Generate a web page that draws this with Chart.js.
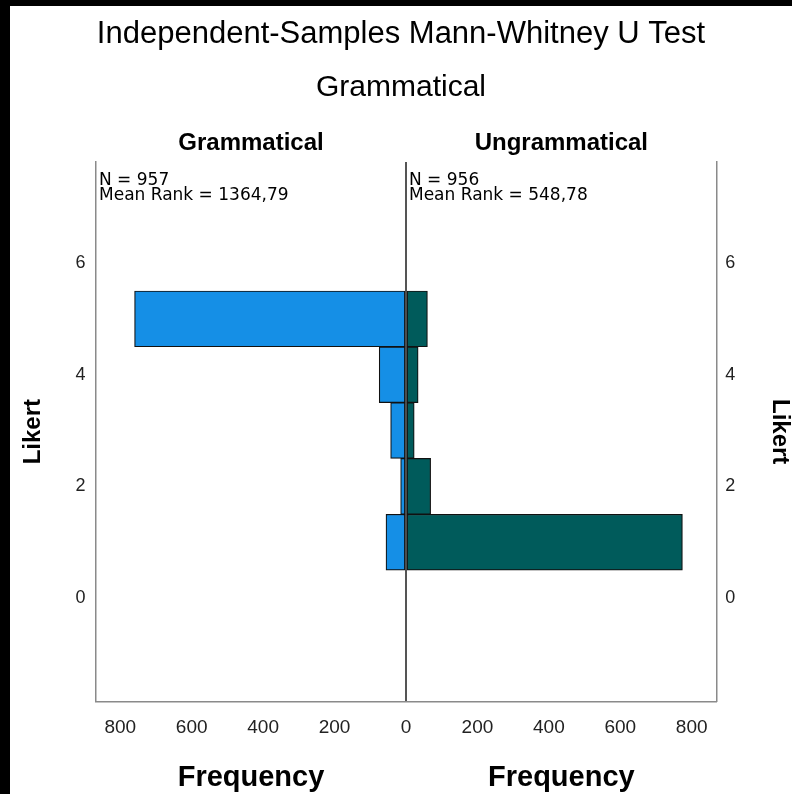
<!DOCTYPE html>
<html>
<head>
<meta charset="utf-8">
<script src="https://cdn.jsdelivr.net/npm/chart.js@4"></script>
<style>
  html, body { margin: 0; padding: 0; background: #000; }
  #wrap { position: absolute; left: 10px; top: 6px; width: 782px; height: 788px; background: #fff; }
</style>
</head>
<body>
<div id="wrap"><canvas id="chart"></canvas></div>
<script>
// data
const likertBins = [1, 2, 3, 4, 5];
const grammaticalFreq = [56, 15, 43, 75, 760];
const ungrammaticalFreq = [774, 69, 23, 34, 60];
const groupNames = ['Grammatical', 'Ungrammatical'];
const groupN = ['957', '956'];
const groupMeanRank = ['1364,79', '548,78'];
const freqTicks = [-800, -600, -400, -200, 0, 200, 400, 600, 800];
const likertTicks = [0, 2, 4, 6];
const freqRange = [-868, 870];
const likertRange = [-1.85, 7.81];

const FONT = '"Liberation Sans", Arial, sans-serif';

// headers, frequency titles and N / mean rank notes for each half
const panelText = {
  id: 'panelText',
  afterDraw(chart) {
    const { ctx, chartArea: a, scales: { x } } = chart;
    const mid = x.getPixelForValue(0);
    const centers = [(a.left + mid) / 2, (mid + a.right) / 2];
    const starts = [a.left + 3, mid + 3];
    ctx.save();
    ctx.fillStyle = '#000';
    ctx.textBaseline = 'middle';
    ctx.textAlign = 'center';
    centers.forEach((cx, i) => {
      ctx.font = 'bold 24px ' + FONT;
      ctx.fillText(groupNames[i], cx, a.top - 19);
      ctx.font = 'bold 29px ' + FONT;
      ctx.fillText('Frequency', cx, a.bottom + 77);
    });
    ctx.textAlign = 'left';
    ctx.font = '17px "DejaVu Sans", sans-serif';
    starts.forEach((sx, i) => {
      ctx.fillText('N = ' + groupN[i], sx, a.top + 19);
      ctx.fillText('Mean Rank = ' + groupMeanRank[i], sx, a.top + 34);
    });
    ctx.restore();
  }
};

const setTicks = list => scale => { scale.ticks = list.map(v => ({ value: v })); };

const yScale = (position, pad, titlePad, width) => ({
  type: 'linear',
  position: position,
  offset: false,
  min: likertRange[0],
  max: likertRange[1],
  afterBuildTicks: setTicks(likertTicks),
  afterFit: s => { s.width = width; },
  grid: { display: false, drawTicks: false, offset: false },
  border: { display: true, color: '#8a8a8a', width: 1.5 },
  ticks: { padding: pad, color: '#222', font: { family: FONT, size: 18 } },
  title: {
    display: true,
    text: 'Likert',
    color: '#000',
    font: { family: FONT, size: 24, weight: 'bold', lineHeight: 1 },
    padding: { top: titlePad, bottom: 0 }
  }
});

new Chart(document.getElementById('chart'), {
  type: 'bar',
  data: {
    datasets: [
      {
        label: groupNames[0],
        data: likertBins.map((b, i) => ({ y: b, x: -grammaticalFreq[i] })),
        backgroundColor: '#158fe6',
        borderColor: '#111',
        borderWidth: 1.2,
        borderSkipped: false,
        grouped: false,
        barPercentage: 1,
        categoryPercentage: 1
      },
      {
        label: groupNames[1],
        data: likertBins.map((b, i) => ({ y: b, x: ungrammaticalFreq[i] })),
        backgroundColor: '#005b5b',
        borderColor: '#111',
        borderWidth: 1.2,
        borderSkipped: false,
        grouped: false,
        barPercentage: 1,
        categoryPercentage: 1
      }
    ]
  },
  options: {
    indexAxis: 'y',
    responsive: true,
    maintainAspectRatio: false,
    animation: false,
    layout: { padding: 0 },
    scales: {
      x: {
        type: 'linear',
        min: freqRange[0],
        max: freqRange[1],
        afterBuildTicks: setTicks(freqTicks),
        afterFit: s => { s.height = 92.7; },
        grid: {
          drawTicks: false,
          color: c => c.tick && c.tick.value === 0 ? '#555' : 'rgba(0,0,0,0)',
          lineWidth: c => c.tick && c.tick.value === 0 ? 2 : 0
        },
        border: { display: true, color: '#8a8a8a', width: 1.5 },
        ticks: {
          padding: 15,
          color: '#222',
          maxRotation: 0,
          font: { family: FONT, size: 19 },
          callback: v => Math.abs(v)
        }
      },
      y: yScale('left', 10.5, 11, 86),
      y2: yScale('right', 8.5, 0, 75.3)
    },
    plugins: {
      legend: { display: false },
      tooltip: { enabled: false },
      title: {
        display: true,
        text: 'Independent-Samples Mann-Whitney U Test',
        color: '#000',
        font: { family: FONT, size: 31, weight: 'normal', lineHeight: 1.2 },
        padding: { top: 9.4, bottom: 17.4 }
      },
      subtitle: {
        display: true,
        text: 'Grammatical',
        color: '#000',
        font: { family: FONT, size: 30, weight: 'normal', lineHeight: 1.2 },
        padding: { top: 0, bottom: 56 }
      }
    }
  },
  plugins: [panelText]
});
</script>
</body>
</html>
